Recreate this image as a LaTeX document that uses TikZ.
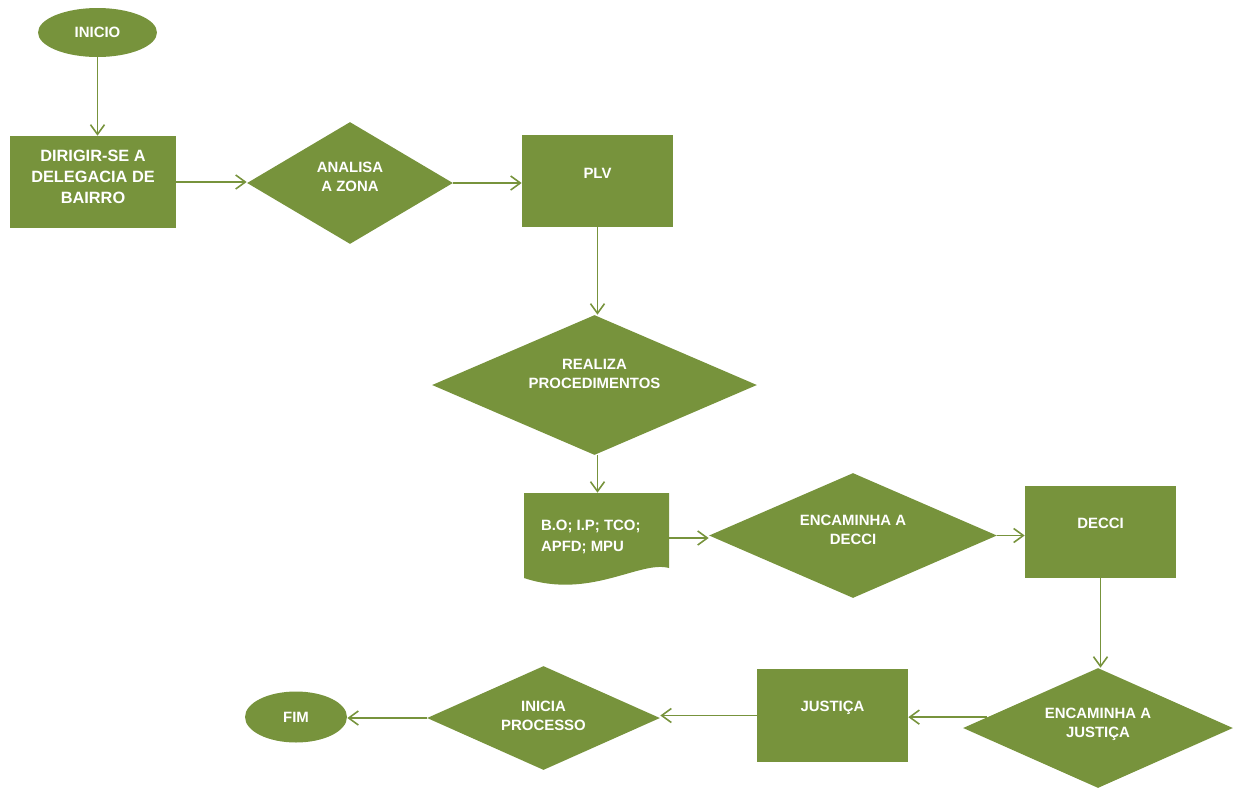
\documentclass[tikz,border=0pt]{standalone}
\usepackage{fontspec}
\setmainfont{Liberation Sans}
\usepackage{tikz}
\usetikzlibrary{arrows.meta,shapes,calc}
\definecolor{oliva}{HTML}{77933C}
\tikzset{
         caixa/.style={rectangle,fill=oliva,minimum width=3.02cm,minimum height=1.84cm,inner sep=0pt},
         decisao/.style={diamond,fill=oliva,inner sep=0pt},
         terminal/.style={ellipse,fill=oliva,inner sep=0pt},
         texto/.style={text=white,font=\bfseries\fontsize{8.5}{10.8}\selectfont,align=center,inner sep=0pt},
         seta/.style={draw=oliva,line width=0.9pt,-{Straight Barb[length=5.5pt,width=8pt]}}
        }

\begin{document}
\begin{tikzpicture}[x=0.02cm,y=-0.02cm]
\useasboundingbox (0,0) rectangle (1241,789);
%formas
\node[terminal,texto,minimum width=2.38cm,minimum height=0.98cm] (inicio) at (97.5,32.5) {INICIO};
\node[caixa,minimum width=3.32cm] (dirigir) at (93,182) {};
\node[decisao,minimum width=4.12cm,minimum height=2.44cm] (analisa) at (350,183) {};
\node[caixa] (plv) at (597.5,181) {};
\node[decisao,minimum width=6.5cm,minimum height=2.8cm] (realiza) at (594.5,385) {};
\fill[oliva] (524,493) -- (669,493) -- (669,568) .. controls (640,560) and (590,600) .. (524,578) -- cycle; %documento
\node[minimum width=2.9cm,minimum height=1.8cm,inner sep=0pt] (doc) at (596.5,538) {};
\node[decisao,minimum width=5.76cm,minimum height=2.5cm] (encdecci) at (853,535.5) {};
\node[caixa] (decci) at (1100.5,532) {};
\node[decisao,minimum width=5.4cm,minimum height=2.4cm] (encjus) at (1098,728) {};
\node[caixa,minimum height=1.86cm] (justica) at (832.5,715.5) {};
\node[decisao,minimum width=4.66cm,minimum height=2.08cm] (inicia) at (543.5,718) {};
\node[terminal,texto,minimum width=2.04cm,minimum height=1.02cm] (fim) at (296,717) {FIM};
%textos
\node[texto,font=\bfseries\fontsize{9.3}{12}\selectfont] (tdirigir) at ([yshift=0.11cm]dirigir.center) {DIRIGIR-SE A\\DELEGACIA DE\\BAIRRO};
\node[texto] (tanalisa) at ([yshift=0.13cm]analisa.center) {ANALISA\\A ZONA};
\node[texto] (tplv) at ([yshift=0.16cm]plv.center) {PLV};
\node[texto] (trealiza) at ([yshift=0.23cm]realiza.center) {REALIZA\\PROCEDIMENTOS};
\node[texto,anchor=west,align=left,font=\bfseries\fontsize{8.5}{12}\selectfont] (tdoc) at ([xshift=0.34cm,yshift=0.03cm]doc.west) {B.O; I.P; TCO;\\APFD; MPU};
\node[texto] (tencdecci) at ([yshift=0.12cm]encdecci.center) {ENCAMINHA A\\DECCI};
\node[texto] (tdecci) at ([yshift=0.18cm]decci.center) {DECCI};
\node[texto] (tencjus) at ([yshift=0.08cm]encjus.center) {ENCAMINHA A\\JUSTIÇA};
\node[texto] (tjustica) at ([yshift=0.15cm]justica.center) {JUSTIÇA};
\node[texto] (tinicia) at ([yshift=0.05cm]inicia.center) {INICIA\\PROCESSO};
%setas
\draw[seta] (inicio.south) -- (inicio.south |- dirigir.north);
\draw[seta] (dirigir.east) -- (dirigir.east -| analisa.west);
\draw[seta] (analisa.east) -- (analisa.east -| plv.west);
\draw[seta] (plv.south) -- (plv.south |- realiza.north);
\draw[seta] (plv.south |- realiza.south) -- (plv.south |- doc.north);
\draw[seta] (doc.east) -- (doc.east -| encdecci.west);
\draw[seta] (encdecci.east) -- (encdecci.east -| decci.west);
\draw[seta] (decci.south) -- (decci.south |- encjus.north);
\coordinate (ejin) at ($(encjus.west)!0.18!(encjus.north)$);
\draw[seta] (ejin) -- (ejin -| justica.east);
\draw[seta] (justica.west) -- (justica.west -| inicia.east);
\draw[seta] (inicia.west) -- (inicia.west -| fim.east);
\end{tikzpicture}
\end{document}
